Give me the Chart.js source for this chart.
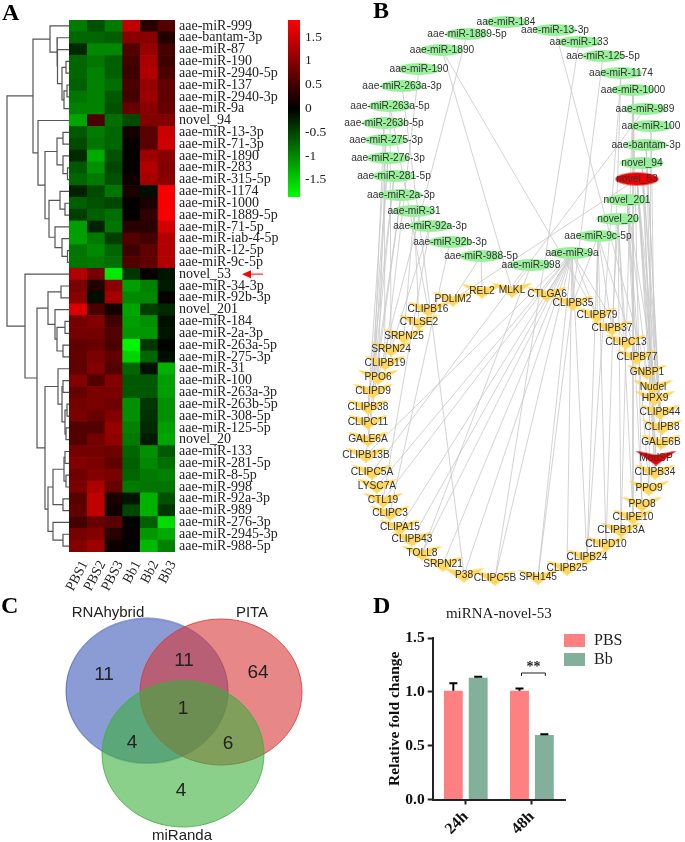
<!DOCTYPE html>
<html>
<head>
<meta charset="utf-8">
<title>miRNA figure</title>
<script src="https://cdn.jsdelivr.net/npm/chart.js@4"></script>
<style>
    html, body { margin: 0; padding: 0; background: #fff; }
    #page { position: relative; width: 685px; height: 842px; overflow: hidden; }
    #page canvas { position: absolute; }
    .letter { position: absolute; font: bold 24px "Liberation Serif", serif; color: #000; line-height: 24px; }
</style>
</head>
<body>
<div id="page">
    <canvas id="dendroChart" width="69" height="600" style="left:0;top:0"></canvas>
    <canvas id="heatChart" width="345" height="600" style="left:0;top:0"></canvas>
    <canvas id="barScaleChart" width="60" height="217" style="left:288px;top:0"></canvas>
    <canvas id="networkChart" width="345" height="590" style="left:340px;top:0"></canvas>
    <canvas id="vennChart" width="340" height="252" style="left:0;top:590px"></canvas>
    <canvas id="foldChart" width="315" height="252" style="left:370px;top:590px"></canvas>
    <div class="letter" style="left:2px;top:0">A</div>
    <div class="letter" style="left:373px;top:-2px">B</div>
    <div class="letter" style="left:1px;top:593px">C</div>
    <div class="letter" style="left:373px;top:593px">D</div>
</div>
<script>
// Panel A: heatmap
const samples = ['PBS1', 'PBS2', 'PBS3', 'Bb1', 'Bb2', 'Bb3'];
const heatRows = [
    'aae-miR-999', 'aae-bantam-3p', 'aae-miR-87', 'aae-miR-190', 'aae-miR-2940-5p', 'aae-miR-137',
    'aae-miR-2940-3p', 'aae-miR-9a', 'novel_94', 'aae-miR-13-3p', 'aae-miR-71-3p', 'aae-miR-1890',
    'aae-miR-283', 'aae-miR-315-5p', 'aae-miR-1174', 'aae-miR-1000', 'aae-miR-1889-5p', 'aae-miR-71-5p',
    'aae-miR-iab-4-5p', 'aae-miR-12-5p', 'aae-miR-9c-5p', 'novel_53', 'aae-miR-34-3p', 'aae-miR-92b-3p',
    'novel_201', 'aae-miR-184', 'aae-miR-2a-3p', 'aae-miR-263a-5p', 'aae-miR-275-3p', 'aae-miR-31',
    'aae-miR-100', 'aae-miR-263a-3p', 'aae-miR-263b-5p', 'aae-miR-308-5p', 'aae-miR-125-5p', 'novel_20',
    'aae-miR-133', 'aae-miR-281-5p', 'aae-miR-8-5p', 'aae-miR-998', 'aae-miR-92a-3p', 'aae-miR-989',
    'aae-miR-276-3p', 'aae-miR-2945-3p', 'aae-miR-988-5p'
];
const pbs1Values = [-0.9, -0.75, -0.3, -0.75, -0.75, -0.7, -0.85, -0.95, -1.2, -0.65, -0.55, -0.3, -0.65, -0.75, -0.25, -0.7, -0.45, -1.15, -1.15, -0.85, -0.85, 1.3, 0.9, 1.0, 1.6, 0.85, 0.85, 0.7, 0.7, 0.7, 0.95, 0.75, 0.85, 0.9, 0.6, 0.6, 0.85, 0.95, 0.8, 0.9, 0.65, 0.7, 0.5, 0.85, 0.95];
const pbs2Values = [-0.6, -0.75, -1.0, -0.85, -0.95, -0.95, -0.95, -0.95, 0.55, -0.9, -0.85, -1.25, -1.05, -0.9, -0.55, -0.6, -0.7, -0.25, -0.9, -1.0, -0.9, 0.85, 0.25, -0.1, 0.55, 0.95, 0.85, 0.75, 0.9, 0.95, 0.6, 0.9, 0.9, 0.75, 0.6, 0.85, 0.85, 0.9, 0.95, 1.25, 1.4, 1.4, 0.75, 0.95, 1.15];
const pbs3Values = [-0.9, -0.7, -1.0, -0.7, -0.7, -0.8, -0.65, -0.6, -0.8, -0.75, -0.75, -0.6, -0.5, -0.6, -0.85, -0.5, -0.8, -0.85, -0.45, -0.75, -0.8, -1.7, 1.0, 1.2, 0.15, 0.45, 0.6, 0.55, 0.7, 0.6, 0.95, 0.9, 0.8, 0.95, 1.1, 1.05, 0.8, 0.7, 0.9, 0.75, 0.2, 0.12, 0.65, 0.3, 0.1];
const bb1Values = [1.4, 1.0, 0.6, 0.5, 0.45, 0.55, 0.5, 0.75, -0.55, 0.15, 0.05, 0.02, 0.03, 0.1, 0.2, 0.03, 0.03, 0.3, 0.6, 0.45, 0.6, -0.4, -1.15, -1.0, -1.2, -1.15, -1.1, -1.8, -1.55, -0.75, -0.65, -0.65, -1.05, -1.05, -0.95, -0.9, -0.75, -0.7, -0.75, -0.9, -0.15, -0.5, -0.02, 0.05, -0.02];
const bb2Values = [0.3, 1.0, 1.1, 1.25, 1.3, 1.1, 1.15, 1.0, 0.95, 0.65, 0.65, 1.15, 1.3, 1.2, -0.1, 0.2, 0.35, 0.3, 0.5, 0.7, 0.7, 0.05, -0.95, -1.0, -0.45, -1.05, -1.1, -0.4, -0.75, -0.12, -0.65, -0.65, -0.4, -0.35, -0.3, -0.2, -1.05, -1.0, -0.9, -0.85, -1.3, -1.3, -0.7, -1.1, -1.35];
const bb3Values = [0.6, 0.25, 0.5, 0.45, 0.55, 0.7, 0.7, 0.75, 0.95, 1.45, 1.5, 1.0, 0.95, 1.0, 1.8, 1.8, 1.8, 1.55, 1.3, 1.3, 1.3, -0.15, -0.2, 0.05, -0.3, -0.12, -0.15, -0.03, -0.1, -1.3, -1.15, -1.15, -1.05, -1.05, -1.15, -1.2, -0.65, -0.8, -0.95, -0.85, -0.6, -0.4, -1.6, -1.25, -0.95];
const scaleTicks = [1.5, 1, 0.5, 0, -0.5, -1, -1.5];

// Row clustering as [height, left, right], numbers are row indexes
const rowTree = [62,
    [36,
        [19, 0, [12, 1, [11.5, 2, [7, [3, 3, 4], [5, [2, 5, 6], 7]]]]],
        [31, 8, [24,
            [12, [6, 9, 10], [6, 11, [1.5, 12, 13]]],
            [20, [9, 14, [4, 15, 16]], [14, 17, [7, 18, [1.5, 19, 20]]]]
        ]]
    ],
    [44, 21, [32,
        [21, [8, 22, 23], [14, 24, [12, [4, 25, 26], [6, 27, 28]]]],
        [24,
            [11, 29, [7, [6, 30, 31], [4, [2, 32, 33], [3, 34, 35]]]],
            [21, [16, [5, [4, 36, 37], [3, 38, 39]], [6, 40, 41]], [16, 42, [6, 43, 44]]]
        ]
    ]]
];

// Panel B: network layout
const mirnaNames = ['aae-miR-184', 'aae-miR-1889-5p', 'aae-miR-13-3p', 'aae-miR-133', 'aae-miR-1890', 'aae-miR-125-5p', 'aae-miR-190', 'aae-miR-1174', 'aae-miR-263a-3p', 'aae-miR-1000', 'aae-miR-263a-5p', 'aae-miR-989', 'aae-miR-263b-5p', 'aae-miR-100', 'aae-miR-275-3p', 'aae-bantam-3p', 'aae-miR-276-3p', 'novel_94', 'aae-miR-281-5p', 'novel_53', 'aae-miR-2a-3p', 'novel_201', 'aae-miR-31', 'novel_20', 'aae-miR-92a-3p', 'aae-miR-9c-5p', 'aae-miR-92b-3p', 'aae-miR-9a', 'aae-miR-988-5p', 'aae-miR-998'];
const mirnaX = [506, 467, 555, 579, 442, 603, 419, 621, 402, 633, 390, 645, 384, 651, 386, 646, 388, 642, 394, 637, 401, 627, 414, 618, 430, 598, 450, 572, 481, 531];
const mirnaY = [22, 34, 30, 42, 50, 56, 69, 73, 86, 90, 106, 109, 123, 126, 140, 145, 158, 163, 176, 179, 195, 200, 211, 219, 226, 236, 242, 253, 256, 265];
const targetNames = ['REL2', 'MLKL', 'PDLIM2', 'CTLGA6', 'CLIPB35', 'CLIPB16', 'CLIPB79', 'CTLSE2', 'CLIPB37', 'SRPN25', 'CLIPC13', 'SRPN24', 'CLIPB77', 'CLIPB19', 'GNBP1', 'PPO6', 'Nudel', 'CLIPD9', 'HPX9', 'CLIPB38', 'CLIPB44', 'CLIPC11', 'CLIPB8', 'GALE6A', 'GALE6B', 'CLIPB13B', 'ModSP', 'CLIPC5A', 'CLIPB34', 'LYSC7A', 'PPO9', 'CTL19', 'PPO8', 'CLIPC3', 'CLIPE10', 'CLIPA15', 'CLIPB13A', 'CLIPB43', 'CLIPD10', 'TOLL8', 'CLIPB24', 'SRPN21', 'CLIPB25', 'P38', 'SPH145', 'CLIPC5B'];
const targetX = [482, 512, 453, 547, 573, 428, 597, 419, 612, 404, 626, 391, 637, 385, 647, 378, 653, 373, 655, 368, 660, 368, 662, 368, 661, 366, 656, 372, 655, 377, 649, 383, 642, 390, 633, 400, 621, 412, 606, 422, 587, 443, 567, 464, 538, 495];
const targetY = [291, 290, 299, 294, 303, 309, 315, 322, 328, 336, 342, 349, 357, 363, 372, 377, 387, 391, 398, 407, 412, 422, 427, 439, 442, 455, 458, 472, 472, 486, 488, 500, 504, 513, 517, 527, 530, 539, 544, 553, 557, 564, 568, 575, 577, 578];
const networkEdges = [
    ['aae-miR-1889-5p', ['PPO6']],
    ['aae-miR-1890', ['MLKL', 'CLIPB79']],
    ['aae-miR-190', ['CLIPB19']],
    ['aae-miR-263a-3p', ['P38']],
    ['aae-miR-263a-5p', ['CLIPB16', 'SRPN24']],
    ['aae-miR-263b-5p', ['CLIPB19', 'CLIPD9']],
    ['aae-miR-275-3p', ['PPO6', 'CLIPB38']],
    ['aae-miR-276-3p', ['CLIPC11', 'CLIPD9']],
    ['aae-miR-281-5p', ['GALE6A', 'CLIPB38']],
    ['aae-miR-2a-3p', ['CLIPD9', 'CLIPB13B']],
    ['aae-miR-31', ['SRPN25', 'CTLSE2']],
    ['aae-miR-92a-3p', ['SRPN24', 'CTL19']],
    ['aae-miR-92b-3p', ['CLIPC3']],
    ['aae-miR-988-5p', ['REL2', 'PDLIM2']],
    ['aae-miR-998', ['MLKL', 'TOLL8']],
    ['aae-miR-989', ['CLIPC5A']],
    ['aae-miR-133', ['CLIPC5B']],
    ['aae-miR-13-3p', ['GNBP1']],
    ['aae-miR-125-5p', ['SPH145']],
    ['aae-miR-1174', ['CLIPD10', 'CLIPB24']],
    ['aae-miR-1000', ['CLIPE10', 'PPO8', 'CLIPB13A']],
    ['aae-miR-100', ['PPO9', 'HPX9']],
    ['aae-bantam-3p', ['Nudel', 'CLIPB44', 'GALE6B']],
    ['novel_94', ['ModSP', 'CLIPB8', 'GALE6B', 'CLIPB34']],
    ['novel_53', ['CTLSE2', 'CLIPB34', 'ModSP', 'HPX9', 'CLIPB8', 'Nudel']],
    ['novel_201', ['PPO8', 'PPO9', 'CLIPB77', 'GNBP1', 'CLIPB44']],
    ['novel_20', ['CLIPC13', 'CLIPB37', 'CLIPE10', 'CLIPB13A']],
    ['aae-miR-9c-5p', ['CLIPB35', 'CLIPB79', 'CLIPB37', 'CLIPB77', 'CLIPD10', 'CLIPB24']],
    ['aae-miR-9a', ['CTLGA6', 'CLIPB35', 'CLIPB79', 'CLIPC13', 'SRPN21', 'TOLL8', 'CLIPB43', 'CLIPA15', 'CLIPC5B', 'SPH145', 'CLIPB25', 'CLIPB24', 'CLIPB13B', 'P38', 'LYSC7A', 'CTL19']]
];

// Panel C: Venn diagram
const vennSets = ['RNAhybrid', 'PITA', 'miRanda'];
const vennSetX = [147, 221, 183];
const vennSetY = [100.8, 102, 164];
const vennSetNameX = [108, 252, 182];
const vennSetNameY = [23, 23, 246];
const vennCounts = ['11', '11', '64', '1', '4', '6', '4'];
const vennCountX = [104, 184, 258, 183, 132, 228, 181];
const vennCountY = [85, 71, 83, 119, 153, 154, 201];

// Panel D: qPCR bars
const timePoints = ['24h', '48h'];
const pbsFold = [1.01, 1.01];
const bbFold = [1.13, 0.6];
const pbsError = [0.07, 0.02];
const bbError = [0.01, 0.005];
const foldTicks = [0, 0.5, 1, 1.5];

const SERIF = '"Liberation Serif", "Times New Roman", serif';
const SANS = '"Liberation Sans", Arial, sans-serif';
const HEAT_MAX = 1.86;

function heatColor(value) {
    const level = Math.round(Math.min(Math.abs(value) / HEAT_MAX, 1) * 255);
    return value >= 0 ? `rgb(${level},0,0)` : `rgb(0,${level},0)`;
}

// Walk the tree, one line dataset per merge
function collectBranches(node, out) {
    if (typeof node === 'number') return { y: node, h: 0 };
    const a = collectBranches(node[1], out);
    const b = collectBranches(node[2], out);
    out.push([{ x: a.h, y: a.y }, { x: node[0], y: a.y }, { x: node[0], y: b.y }, { x: b.h, y: b.y }]);
    return { y: (a.y + b.y) / 2, h: node[0] };
}

function createDendrogram() {
    const branches = [];
    collectBranches(rowTree, branches);
    new Chart(document.getElementById('dendroChart'), {
        type: 'scatter',
        data: {
            datasets: branches.map(points => ({
                data: points,
                showLine: true,
                borderColor: '#555',
                borderWidth: 1.2,
                pointRadius: 0
            }))
        },
        options: {
            responsive: false,
            animation: false,
            layout: { autoPadding: false, padding: { top: 20, bottom: 48 } },
            plugins: { legend: { display: false }, tooltip: { enabled: false } },
            scales: {
                x: { display: false, min: 0, max: 69, reverse: true },
                y: { display: false, min: -0.5, max: 44.5, reverse: true }
            }
        }
    });
}

const arrowPlugin = {
    id: 'arrowPlugin',
    afterDraw(chart) {
        const y = chart.scales.y.getPixelForValue(heatRows.indexOf('novel_53'));
        const ctx = chart.ctx;
        ctx.save();
        ctx.strokeStyle = '#f55';
        ctx.fillStyle = '#f00';
        ctx.lineWidth = 1.5;
        ctx.beginPath();
        ctx.moveTo(263, y);
        ctx.lineTo(248, y);
        ctx.stroke();
        ctx.beginPath();
        ctx.moveTo(242, y);
        ctx.lineTo(251, y - 4);
        ctx.lineTo(251, y + 4);
        ctx.closePath();
        ctx.fill();
        ctx.restore();
    }
};

function createHeatmap() {
    const columns = [pbs1Values, pbs2Values, pbs3Values, bb1Values, bb2Values, bb3Values];
    new Chart(document.getElementById('heatChart'), {
        type: 'bar',
        data: {
            labels: heatRows,
            datasets: columns.map((values, i) => ({
                label: samples[i],
                data: values.map(() => 1),
                backgroundColor: values.map(heatColor),
                borderWidth: 0,
                barPercentage: 1,
                categoryPercentage: 1
            }))
        },
        options: {
            indexAxis: 'y',
            responsive: false,
            animation: false,
            layout: { padding: { left: 69, top: 20 } },
            plugins: { legend: { display: false }, tooltip: { enabled: false } },
            scales: {
                x: { display: false, stacked: true, min: 0, max: 6 },
                x2: {
                    axis: 'x',
                    type: 'category',
                    labels: samples,
                    position: 'bottom',
                    offset: true,
                    grid: { display: false },
                    border: { display: false },
                    ticks: {
                        autoSkip: false,
                        color: '#222',
                        padding: -2,
                        labelOffset: 7,
                        maxRotation: 62,
                        minRotation: 62,
                        font: { family: SERIF, size: 14 }
                    },
                    afterFit(scale) { scale.height = 48; }
                },
                y: {
                    stacked: true,
                    position: 'right',
                    grid: { display: false, drawTicks: false },
                    border: { display: false },
                    ticks: {
                        autoSkip: false,
                        color: '#222',
                        padding: 4,
                        font: { family: SERIF, size: 14 }
                    },
                    afterFit(scale) { scale.width = 170; }
                }
            }
        },
        plugins: [arrowPlugin]
    });
}

function createColorScale() {
    new Chart(document.getElementById('barScaleChart'), {
        type: 'bar',
        data: {
            labels: [''],
            datasets: [{
                data: [[-HEAT_MAX, HEAT_MAX]],
                barPercentage: 1,
                categoryPercentage: 1,
                backgroundColor(context) {
                    const area = context.chart.chartArea;
                    if (!area) return '#000';
                    const g = context.chart.ctx.createLinearGradient(0, area.top, 0, area.bottom);
                    g.addColorStop(0, '#ff0000');
                    g.addColorStop(0.5, '#000000');
                    g.addColorStop(1, '#00ff00');
                    return g;
                }
            }]
        },
        options: {
            responsive: false,
            animation: false,
            layout: { padding: { top: 20, bottom: 20 } },
            plugins: { legend: { display: false }, tooltip: { enabled: false } },
            scales: {
                x: { display: false },
                y: {
                    position: 'right',
                    min: -HEAT_MAX,
                    max: HEAT_MAX,
                    grid: { display: false, drawTicks: false },
                    border: { display: false },
                    afterBuildTicks(scale) { scale.ticks = scaleTicks.map(value => ({ value })); },
                    ticks: {
                        color: '#222',
                        padding: 5,
                        font: { family: SERIF, size: 13.5 },
                        callback: value => String(value)
                    },
                    afterFit(scale) { scale.width = 48; }
                }
            }
        }
    });
}

// Small canvases used as point styles
function ellipseStyle(width, height, fill, stroke) {
    const c = document.createElement('canvas');
    c.width = width + 2;
    c.height = height + 2;
    const ctx = c.getContext('2d');
    ctx.beginPath();
    ctx.ellipse(c.width / 2, c.height / 2, width / 2, height / 2, 0, 0, Math.PI * 2);
    ctx.fillStyle = fill;
    ctx.fill();
    if (stroke) {
        ctx.strokeStyle = stroke;
        ctx.lineWidth = 1;
        ctx.stroke();
    }
    return c;
}

function veeStyle(width, height, fill) {
    const c = document.createElement('canvas');
    c.width = width;
    c.height = height;
    const ctx = c.getContext('2d');
    ctx.beginPath();
    ctx.moveTo(0, 0);
    ctx.lineTo(width / 2, height * 0.3);
    ctx.lineTo(width, 0);
    ctx.lineTo(width / 2, height);
    ctx.closePath();
    ctx.fillStyle = fill;
    ctx.fill();
    return c;
}

const nodeLabelPlugin = {
    id: 'nodeLabelPlugin',
    afterDraw(chart) {
        const ctx = chart.ctx;
        ctx.save();
        ctx.font = '10.2px ' + SANS;
        ctx.fillStyle = '#333';
        ctx.textAlign = 'center';
        ctx.textBaseline = 'middle';
        [mirnaNames, targetNames].forEach((names, d) => {
            chart.getDatasetMeta(d).data.forEach((point, i) => {
                ctx.fillText(names[i], point.x, point.y);
            });
        });
        ctx.restore();
    }
};

function createNetwork() {
    const greenNode = ellipseStyle(43, 12, '#98f09a');
    const redNode = ellipseStyle(43, 13, '#f00000');
    const yellowNode = veeStyle(42, 15, '#ffd65c');
    const redVee = veeStyle(42, 15, '#ee0000');

    const edgeSets = [];
    networkEdges.forEach(([source, targets]) => {
        const s = mirnaNames.indexOf(source);
        targets.forEach(target => {
            const t = targetNames.indexOf(target);
            edgeSets.push({
                data: [{ x: mirnaX[s], y: mirnaY[s] }, { x: targetX[t], y: targetY[t] }],
                showLine: true,
                borderColor: '#c8c8c8',
                borderWidth: 0.8,
                pointRadius: 0
            });
        });
    });

    new Chart(document.getElementById('networkChart'), {
        type: 'scatter',
        data: {
            datasets: [
                {
                    data: mirnaNames.map((name, i) => ({ x: mirnaX[i], y: mirnaY[i] })),
                    pointStyle: mirnaNames.map(name => name === 'novel_53' ? redNode : greenNode)
                },
                {
                    data: targetNames.map((name, i) => ({ x: targetX[i], y: targetY[i] })),
                    pointStyle: targetNames.map(name => name === 'ModSP' ? redVee : yellowNode)
                }
            ].concat(edgeSets)
        },
        options: {
            responsive: false,
            animation: false,
            layout: { autoPadding: false },
            plugins: { legend: { display: false }, tooltip: { enabled: false } },
            scales: {
                x: { display: false, min: 340, max: 685 },
                y: { display: false, min: 0, max: 590, reverse: true }
            }
        },
        plugins: [nodeLabelPlugin]
    });
}

const vennTextPlugin = {
    id: 'vennTextPlugin',
    afterDraw(chart) {
        const { ctx, scales } = chart;
        ctx.save();
        ctx.fillStyle = '#222';
        ctx.textAlign = 'center';
        ctx.textBaseline = 'middle';
        ctx.font = '15px ' + SANS;
        vennSets.forEach((name, i) => {
            ctx.fillText(name, scales.x.getPixelForValue(vennSetNameX[i]), scales.y.getPixelForValue(vennSetNameY[i]));
        });
        ctx.font = '19px ' + SANS;
        vennCounts.forEach((count, i) => {
            ctx.fillText(count, scales.x.getPixelForValue(vennCountX[i]), scales.y.getPixelForValue(vennCountY[i]));
        });
        ctx.restore();
    }
};

function createVenn() {
    const circles = [
        ellipseStyle(162, 145, 'rgba(62,90,185,0.6)', 'rgba(62,90,185,0.8)'),
        ellipseStyle(162, 146, 'rgba(215,55,55,0.6)', 'rgba(215,55,55,0.8)'),
        ellipseStyle(162, 146, 'rgba(60,175,60,0.6)', 'rgba(60,175,60,0.8)')
    ];
    new Chart(document.getElementById('vennChart'), {
        type: 'scatter',
        data: {
            datasets: [{
                data: vennSets.map((name, i) => ({ x: vennSetX[i], y: vennSetY[i] })),
                pointStyle: circles
            }]
        },
        options: {
            responsive: false,
            animation: false,
            layout: { autoPadding: false },
            plugins: { legend: { display: false }, tooltip: { enabled: false } },
            scales: {
                x: { display: false, min: 0, max: 340 },
                y: { display: false, min: 0, max: 252, reverse: true }
            }
        },
        plugins: [vennTextPlugin]
    });
}

// Error bars, significance bracket and legend of panel D
const foldExtras = {
    id: 'foldExtras',
    afterDatasetsDraw(chart) {
        const { ctx, scales } = chart;
        ctx.save();
        ctx.strokeStyle = '#000';
        [pbsError, bbError].forEach((errors, d) => {
            chart.getDatasetMeta(d).data.forEach((bar, i) => {
                const value = chart.data.datasets[d].data[i];
                const top = scales.y.getPixelForValue(value + errors[i]);
                ctx.lineWidth = 2;
                ctx.beginPath();
                ctx.moveTo(bar.x, scales.y.getPixelForValue(value));
                ctx.lineTo(bar.x, top);
                ctx.moveTo(bar.x - 4, top);
                ctx.lineTo(bar.x + 4, top);
                ctx.stroke();
            });
        });

        const left = chart.getDatasetMeta(0).data[1].x + 2;
        const right = chart.getDatasetMeta(1).data[1].x + 1;
        const y = scales.y.getPixelForValue(1.175);
        ctx.lineWidth = 1;
        ctx.strokeStyle = '#222';
        ctx.beginPath();
        ctx.moveTo(left, y + 3);
        ctx.lineTo(left, y);
        ctx.lineTo(right, y);
        ctx.lineTo(right, y + 3);
        ctx.stroke();
        ctx.fillStyle = '#222';
        ctx.font = 'bold 14px ' + SERIF;
        ctx.textAlign = 'center';
        ctx.textBaseline = 'middle';
        ctx.fillText('**', (left + right) / 2, y - 6);

        ctx.font = '16px ' + SERIF;
        ctx.textAlign = 'left';
        chart.data.datasets.forEach((dataset, d) => {
            const rowY = 44 + d * 19;
            ctx.fillStyle = dataset.backgroundColor;
            ctx.fillRect(194, rowY, 21, 13);
            ctx.fillStyle = '#222';
            ctx.fillText(dataset.label, 224, rowY + 7);
        });
        ctx.restore();
    }
};

function createFoldChart() {
    new Chart(document.getElementById('foldChart'), {
        type: 'bar',
        data: {
            labels: timePoints,
            datasets: [
                { label: 'PBS', data: pbsFold, backgroundColor: '#ff8080' },
                { label: 'Bb', data: bbFold, backgroundColor: '#82b09a' }
            ]
        },
        options: {
            responsive: false,
            animation: false,
            categoryPercentage: 0.752,
            barPercentage: 0.76,
            layout: { padding: { right: 120 } },
            plugins: {
                legend: { display: false },
                tooltip: { enabled: false },
                title: {
                    display: true,
                    fullSize: false,
                    text: 'miRNA-novel-53',
                    color: '#222',
                    font: { family: SERIF, size: 15, weight: 'normal' },
                    padding: { top: 15, bottom: 15 }
                }
            },
            scales: {
                x: {
                    border: { color: '#222', width: 2 },
                    grid: { drawOnChartArea: false, offset: false, tickLength: 5, tickWidth: 2, tickColor: '#222' },
                    ticks: {
                        color: '#111',
                        padding: 3,
                        maxRotation: 45,
                        minRotation: 45,
                        font: { family: SERIF, size: 16, weight: 'bold' }
                    },
                    afterFit(scale) { scale.height = 42.5; }
                },
                y: {
                    min: 0,
                    max: 1.5,
                    border: { color: '#222', width: 2 },
                    grid: { drawOnChartArea: false, tickLength: 5, tickWidth: 2, tickColor: '#222' },
                    afterBuildTicks(scale) { scale.ticks = foldTicks.map(value => ({ value })); },
                    title: {
                        display: true,
                        text: 'Relative fold change',
                        color: '#111',
                        padding: { top: 16, bottom: 0 },
                        font: { family: SERIF, size: 15.5, weight: 'bold' }
                    },
                    ticks: {
                        color: '#111',
                        padding: 3,
                        font: { family: SERIF, size: 15.5, weight: 'bold' },
                        callback: value => value.toFixed(1)
                    },
                    afterFit(scale) { scale.width = 62.7; }
                }
            }
        },
        plugins: [foldExtras]
    });
}

createDendrogram();
createHeatmap();
createColorScale();
createNetwork();
createVenn();
createFoldChart();
</script>
</body>
</html>
